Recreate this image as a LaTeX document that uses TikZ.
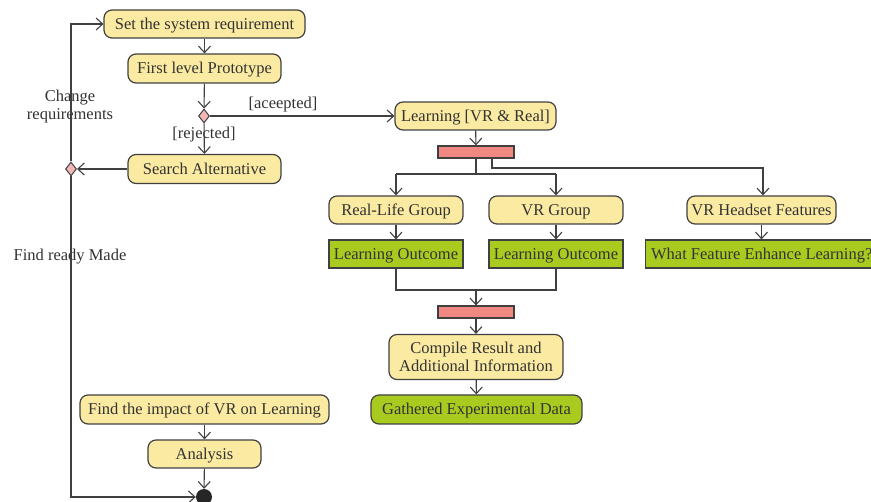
\documentclass[tikz,border=0pt]{standalone}
\usepackage{fontspec}
\setmainfont{Liberation Serif}
\usetikzlibrary{arrows.meta,shapes.geometric}
\definecolor{lc}{HTML}{404040}
\definecolor{tc}{HTML}{333333}
\definecolor{ylw}{HTML}{FBEAA2}
\definecolor{grn}{HTML}{A9CB1F}
\definecolor{bar}{HTML}{EF8880}
\definecolor{dia}{HTML}{F3B6B6}
\tikzset{
  base/.style={draw=lc, line width=1.2pt, text=tc, inner sep=0pt, align=center,
    font=\fontsize{16.5}{18}\selectfont},
  one/.style={text height=12.4pt, text depth=2pt},
  act/.style={base, fill=ylw, rounded corners=8pt},
  gact/.style={base, fill=grn, rounded corners=8pt},
  gbox/.style={base, fill=grn},
  forkbar/.style={draw=lc, line width=1.2pt, fill=bar, minimum width=76pt, minimum height=12pt, inner sep=0pt},
  dec/.style={diamond, draw=lc, line width=1pt, fill=dia, minimum width=11pt, minimum height=14pt, inner sep=0pt},
  endn/.style={circle, fill=black!85, minimum size=16pt, inner sep=0pt},
  arr/.style={draw=lc, line width=1.1pt, -{Straight Barb[length=6.5pt,width=12pt,line width=1.1pt]}},
  ln/.style={draw=lc, line width=1.1pt},
  lbl/.style={text=tc, font=\fontsize{16.5}{18}\selectfont, inner sep=0pt, align=center}
}
\begin{document}
\begin{tikzpicture}[x=1pt,y=-1pt]
\useasboundingbox (0,0) rectangle (871,502);
% nodes
\node[act, one, minimum width=201pt, minimum height=28pt] (set) at (204.5,24) {Set the system requirement};
\node[act, one, minimum width=153pt, minimum height=29pt] (proto) at (204.5,68.5) {First level Prototype};
\node[dec] (d1) at (204,116) {};
\node[act, one, minimum width=153pt, minimum height=29pt] (search) at (204.5,169) {Search Alternative};
\node[dec] (d2) at (71,169) {};
\node[act, one, minimum width=161pt, minimum height=28pt] (learn) at (475.5,116) {Learning [VR \& Real]};
\node[forkbar] (bar1) at (476,152) {};
\node[act, one, minimum width=134pt, minimum height=28pt] (real) at (396,210) {Real-Life Group};
\node[act, one, minimum width=134pt, minimum height=28pt] (vrg) at (556,210) {VR Group};
\node[act, one, minimum width=149pt, minimum height=28pt] (vrh) at (761.5,210) {VR Headset Features};
\node[gbox, one, minimum width=134pt, minimum height=28pt] (lo1) at (396,254) {Learning Outcome};
\node[gbox, one, minimum width=134pt, minimum height=28pt] (lo2) at (556,254) {Learning Outcome};
\node[gbox, one, minimum height=28pt, anchor=west, inner xsep=5.5pt] (wf) at (645,254) {What Feature Enhance Learning?};
\node[forkbar] (bar2) at (476,312) {};
\node[act, minimum width=174pt, minimum height=45pt] (comp) at (476,357) {Compile Result and\\Additional Information};
\node[gact, one, minimum width=211pt, minimum height=29pt] (gath) at (476.5,409.5) {Gathered Experimental Data};
\node[act, one, minimum width=249pt, minimum height=29pt] (impact) at (204.5,409.5) {Find the impact of VR on Learning};
\node[act, one, minimum width=113pt, minimum height=28pt] (ana) at (204.5,454) {Analysis};
\node[endn] (end) at (204,497) {};
% labels
\node[lbl] (lacc) at (283,105) {[aceepted]};
\node[lbl] (lrej) at (204,135) {[rejected]};
\node[lbl] (lchg) at (70,107) {Change\\requirements};
\node[lbl] (lfind) at (70,257) {Find ready Made};
% coordinates
\coordinate (ltop) at (71,24);
\coordinate (lbot) at (71,497);
\coordinate (fj) at (476,174);
\coordinate (fl) at (396,174);
\coordinate (fr) at (556,174);
\coordinate (fa) at (492,158);
\coordinate (fb) at (492,168);
\coordinate (fc) at (763,168);
\coordinate (j1) at (396,290);
\coordinate (j2) at (556,290);
\coordinate (jm) at (476,290);
% connectors
\draw[arr] (set) -- (proto);
\draw[arr] (proto) -- (d1);
\draw[arr] (d1) -- (search);
\draw[arr] (d1.east) -- (learn.west);
\draw[arr] (search.west) -- (d2.east);
\draw[arr] (d2.north) -- (ltop) -- (set.west);
\draw[arr] (d2.south) -- (lbot) -- (end.west);
\draw[arr] (learn) -- (bar1);
\draw[ln] (bar1.south) -- (fj);
\draw[ln] (fl) -- (fr);
\draw[arr] (fl) -- (real.north);
\draw[arr] (fr) -- (vrg.north);
\draw[arr] (fa) -- (fb) -- (fc) -- (vrh.north -| fc);
\draw[arr] (real) -- (lo1);
\draw[arr] (vrg) -- (lo2);
\draw[arr] (vrh.south) -- (vrh.south |- wf.north);
\draw[ln] (lo1.south) -- (j1) -- (j2) -- (lo2.south);
\draw[arr] (jm) -- (bar2.north);
\draw[arr] (bar2) -- (comp);
\draw[arr] (comp) -- (gath);
\draw[arr] (impact) -- (ana);
\draw[arr] (ana) -- (end);
\end{tikzpicture}
\end{document}
